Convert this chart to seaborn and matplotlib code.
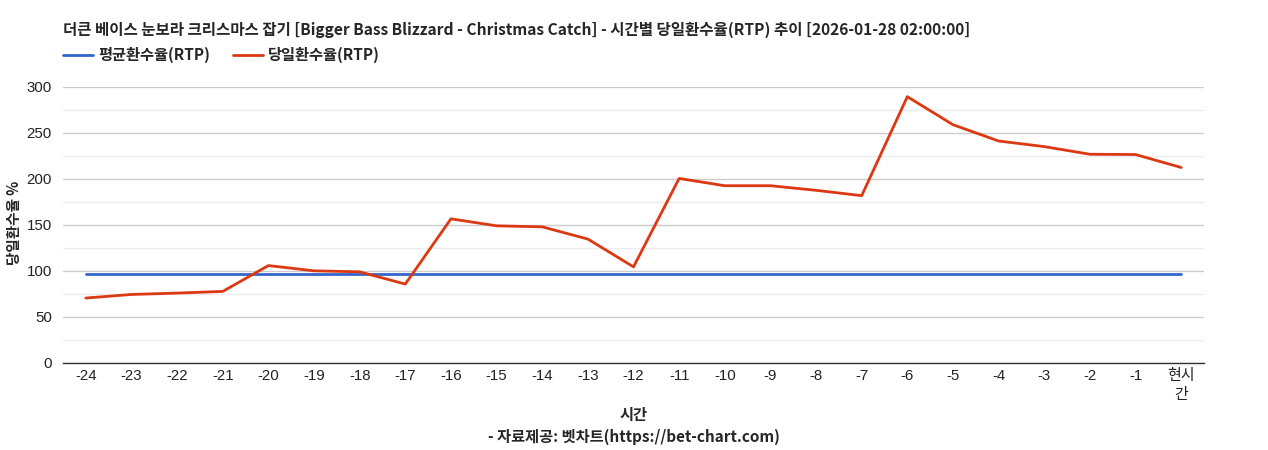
"""
    Hourly RTP trend chart (bet-chart style) recreated with seaborn
"""
import matplotlib
matplotlib.use('Agg')
import matplotlib.pyplot as plt
import seaborn as sns
import pandas as pd

hours = ['-24', '-23', '-22', '-21', '-20', '-19', '-18', '-17', '-16', '-15', '-14', '-13',
         '-12', '-11', '-10', '-9', '-8', '-7', '-6', '-5', '-4', '-3', '-2', '-1', '현시\n간']
avg_rtp = [96.5] * len(hours)
daily_rtp = [70.6, 74.5, 76.0, 77.8, 105.9, 100.2, 99.1, 85.8, 156.7, 149.1, 148.0, 134.7,
             104.5, 200.6, 192.7, 192.7, 187.7, 181.9, 289.5, 259.0, 241.3, 235.2, 226.9, 226.6, 212.5]
series_names = ['평균환수율(RTP)', '당일환수율(RTP)']
series_colors = ['#3366cc', '#dc3912']

title = '더큰 베이스 눈보라 크리스마스 잡기 [Bigger Bass Blizzard - Christmas Catch] - 시간별 당일환수율(RTP) 추이 [2026-01-28 02:00:00]'

sns.set_theme(style='white')
plt.rcParams['font.family'] = ['Liberation Sans', 'Noto Sans CJK KR', 'DejaVu Sans']
KR = ['Noto Sans CJK KR', 'DejaVu Sans']

df = pd.DataFrame({
    'idx': list(range(len(hours))) * 2,
    'value': avg_rtp + daily_rtp,
    'series': [series_names[0]] * len(hours) + [series_names[1]] * len(hours),
})

fig = plt.figure(figsize=(12.68, 4.5), dpi=100)
ax = fig.add_axes([63 / 1268, 1 - 363 / 450, (1204 - 63) / 1268, (363 - 87) / 450])

sns.lineplot(data=df, x='idx', y='value', hue='series', palette=series_colors,
             linewidth=2, ax=ax, legend=False)

ax.set_xlim(-0.5, len(hours) - 0.5)
ax.set_ylim(0, 300)
ax.set_xticks(range(len(hours)))
ax.set_xticklabels(hours, fontsize=10.8, color='#222222', linespacing=1.45)
ax.set_yticks(range(0, 301, 50))
ax.set_yticks(range(25, 300, 50), minor=True)
ax.tick_params(axis='y', labelsize=10.8, colors='#222222', length=0, pad=8)
ax.tick_params(axis='x', length=0, pad=4)
for lbl in ax.get_xticklabels():
    lbl.set_family(['Liberation Sans'] + KR)
    lbl.set_va('top')

ax.grid(axis='y', which='major', color='#cccccc', linewidth=1)
ax.grid(axis='y', which='minor', color='#ebebeb', linewidth=1)
ax.set_axisbelow(True)
for side in ['top', 'right', 'left']:
    ax.spines[side].set_visible(False)
ax.spines['bottom'].set_color('#333333')
ax.spines['bottom'].set_linewidth(1)

ax.set_xlabel('')
ax.set_ylabel('')
fig.text(14 / 1268, 1 - 223 / 450, '당일환수율 %', family=KR, fontsize=10.5,
         fontweight='bold', rotation=90, ha='center', va='center')

fig.text(63 / 1268, 1 - 30 / 450, title, family=KR, fontsize=11.2, fontweight='bold',
         va='center', ha='left')

# legend drawn by hand to match layout
leg_y = 1 - 55 / 450
legend_x = [63, 233]
for name, color, lx in zip(series_names, series_colors, legend_x):
    fig.add_artist(plt.Line2D([lx / 1268, (lx + 30) / 1268], [leg_y, leg_y],
                              color=color, linewidth=2, transform=fig.transFigure))
    fig.text((lx + 35) / 1268, leg_y, name, family=KR, fontsize=11, fontweight='bold',
             va='center', ha='left')

cx = (63 + 1204) / 2 / 1268
fig.text(cx, 1 - 415 / 450, '시간', family=KR, fontsize=11, fontweight='bold',
         ha='center', va='center')
fig.text(cx, 1 - 437 / 450, '- 자료제공: 벳차트(https://bet-chart.com)', family=KR,
         fontsize=11, fontweight='bold', ha='center', va='center')

fig.savefig('out.png', dpi=100, facecolor='white')
